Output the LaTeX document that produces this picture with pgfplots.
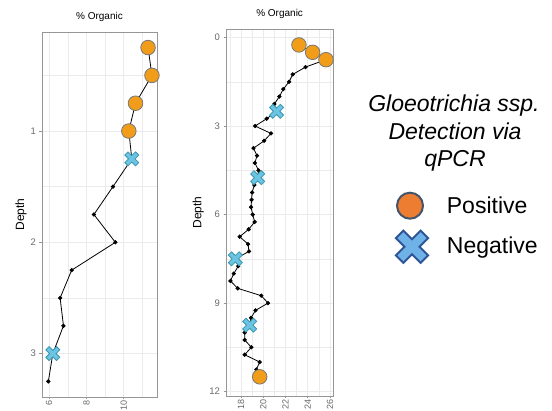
\documentclass[border=0pt]{standalone}
\usepackage{pgfplots}
\usepackage{pgfplotstable}
\pgfplotsset{compat=1.18}
\usepackage{fontspec}
\setmainfont{Liberation Sans}

\definecolor{posfill}{RGB}{242,157,26}
\definecolor{posedge}{RGB}{120,120,120}
\definecolor{negfill}{RGB}{108,196,228}
\definecolor{negedge}{RGB}{58,150,170}
\definecolor{gridc}{RGB}{235,235,235}
\definecolor{framec}{RGB}{150,150,150}
\definecolor{tickc}{RGB}{105,105,105}
\definecolor{legpos}{RGB}{237,125,49}
\definecolor{legposedge}{RGB}{68,84,106}
\definecolor{legneg}{RGB}{111,178,232}
\definecolor{legnegedge}{RGB}{47,85,151}

\pgfdeclareplotmark{fatx}{%
  \pgftransformrotate{45}%
  \pgfpathmoveto{\pgfpoint{0.3\pgfplotmarksize}{\pgfplotmarksize}}%
  \pgfpathlineto{\pgfpoint{0.3\pgfplotmarksize}{0.3\pgfplotmarksize}}%
  \pgfpathlineto{\pgfpoint{\pgfplotmarksize}{0.3\pgfplotmarksize}}%
  \pgfpathlineto{\pgfpoint{\pgfplotmarksize}{-0.3\pgfplotmarksize}}%
  \pgfpathlineto{\pgfpoint{0.3\pgfplotmarksize}{-0.3\pgfplotmarksize}}%
  \pgfpathlineto{\pgfpoint{0.3\pgfplotmarksize}{-\pgfplotmarksize}}%
  \pgfpathlineto{\pgfpoint{-0.3\pgfplotmarksize}{-\pgfplotmarksize}}%
  \pgfpathlineto{\pgfpoint{-0.3\pgfplotmarksize}{-0.3\pgfplotmarksize}}%
  \pgfpathlineto{\pgfpoint{-\pgfplotmarksize}{-0.3\pgfplotmarksize}}%
  \pgfpathlineto{\pgfpoint{-\pgfplotmarksize}{0.3\pgfplotmarksize}}%
  \pgfpathlineto{\pgfpoint{-0.3\pgfplotmarksize}{0.3\pgfplotmarksize}}%
  \pgfpathlineto{\pgfpoint{-0.3\pgfplotmarksize}{\pgfplotmarksize}}%
  \pgfpathclose
  \pgfusepathqfillstroke
}

\pgfplotstableread{
org depth
11.30 0.25
11.51 0.50
10.63 0.75
10.27 1.00
10.43 1.25
9.42 1.50
8.40 1.75
9.55 2.00
7.21 2.25
6.59 2.50
6.77 2.75
6.20 3.00
5.96 3.25
}\leftall
\pgfplotstableread{
org depth
11.30 0.25
11.51 0.50
10.63 0.75
10.27 1.00
}\leftpos
\pgfplotstableread{
org depth
10.43 1.25
6.20 3.00
}\leftneg

\pgfplotstableread{
org depth
23.21 0.25
24.44 0.50
25.64 0.75
23.80 1.00
22.65 1.25
22.32 1.50
21.80 1.75
21.45 2.00
21.00 2.25
21.20 2.50
20.31 2.75
19.27 3.00
20.70 3.25
20.08 3.50
19.12 3.75
19.44 4.00
19.25 4.25
19.57 4.50
19.50 4.75
19.20 5.00
19.00 5.25
18.95 5.50
18.90 5.75
19.05 6.00
19.23 6.25
18.69 6.50
17.88 6.75
18.63 7.00
18.72 7.25
17.49 7.50
17.75 7.75
17.35 8.00
17.05 8.25
17.70 8.50
19.82 8.75
20.43 9.00
19.30 9.25
18.90 9.50
18.78 9.75
18.33 10.00
18.33 10.25
18.93 10.50
18.33 10.75
19.68 11.00
19.38 11.25
19.68 11.50
}\rightall
\pgfplotstableread{
org depth
23.21 0.25
24.44 0.50
25.64 0.75
19.68 11.50
}\rightpos
\pgfplotstableread{
org depth
21.20 2.50
19.50 4.75
17.49 7.50
18.78 9.75
}\rightneg

\pgfplotsset{panel/.style={
  scale only axis,
  axis line style={framec, line width=0.8pt},
  y dir=reverse,
  tick align=outside, tick pos=left,
  major tick length=2.5pt, minor tick length=0pt,
  tick style={framec, line width=0.6pt},
  grid=both,
  major grid style={gridc, line width=0.7pt},
  minor grid style={gridc, line width=0.45pt},
  ticklabel style={font=\fontsize{9.5}{10}\selectfont, text=tickc},
  xticklabel style={rotate=90, anchor=east, inner sep=0.5pt, font=\fontsize{9}{10}\selectfont},
  /pgf/number format/assume math mode=true,
  title={\% Organic},
  title style={font=\fontsize{10.5}{12}\selectfont, text=black!85},
  every axis title/.style={at={(rel axis cs:0.5,1)}, anchor=center, yshift=15pt},
  ylabel={Depth},
}}

\begin{document}
\begin{tikzpicture}
\useasboundingbox (0pt,0pt) rectangle (552pt,411pt);

\begin{axis}[panel,
  at={(42pt,14pt)}, anchor=south west, width=115pt, height=365pt,
  xmin=5.62, xmax=11.78, ymin=0.11, ymax=3.39,
  xtick={6,8,10}, minor xtick={7,9,11},
  ytick={1,2,3}, minor ytick={0.5,1.5,2.5},
  every axis y label/.style={at={(rel axis cs:0,0.5)}, xshift=-21pt, rotate=90, anchor=center, font=\fontsize{12}{14}\selectfont}]
\addplot[black, line width=0.8pt, mark=*, mark size=1.7pt] table[x=org,y=depth]{\leftall};
\addplot[only marks, mark=*, mark size=7.3pt, mark options={fill=posfill, draw=posedge, line width=0.8pt}] table[x=org,y=depth]{\leftpos};
\addplot[only marks, mark=fatx, mark size=7.6pt, mark options={fill=negfill, draw=negedge, line width=0.8pt}] table[x=org,y=depth]{\leftneg};
\end{axis}

\begin{axis}[panel,
  at={(226pt,15pt)}, anchor=south west, width=107.3pt, height=366.7pt,
  xmin=16.65, xmax=26.3, ymin=-0.28, ymax=12.15,
  xtick={18,20,22,24,26}, minor xtick={17,19,21,23,25},
  ytick={0,3,6,9,12}, minor ytick={1.5,4.5,7.5,10.5},
  every axis y label/.style={at={(rel axis cs:0,0.5)}, xshift=-27.7pt, rotate=90, anchor=center, font=\fontsize{12}{14}\selectfont}]
\addplot[black, line width=0.8pt, mark=*, mark size=1.7pt] table[x=org,y=depth]{\rightall};
\addplot[only marks, mark=*, mark size=7.3pt, mark options={fill=posfill, draw=posedge, line width=0.8pt}] table[x=org,y=depth]{\rightpos};
\addplot[only marks, mark=fatx, mark size=7.6pt, mark options={fill=negfill, draw=negedge, line width=0.8pt}] table[x=org,y=depth]{\rightneg};
\end{axis}

% legend
\node[anchor=base, inner sep=0pt, font=\fontsize{23}{27}\selectfont\itshape] at (454pt,299.3pt) {Gloeotrichia ssp.};
\node[anchor=base, inner sep=0pt, font=\fontsize{23}{27}\selectfont\itshape] at (455pt,271.7pt) {Detection via};
\node[anchor=base, inner sep=0pt, font=\fontsize{23}{27}\selectfont\itshape] at (455pt,244.3pt) {qPCR};
\draw[fill=legpos, draw=legposedge, line width=2pt] (410pt,205.3pt) circle (13pt);
\begin{scope}[shift={(412pt,164.3pt)}, rotate=45]
\draw[fill=legneg, draw=legnegedge, line width=2pt, line join=miter]
  (5.3pt,17.5pt) -- (5.3pt,5.3pt) -- (17.5pt,5.3pt) -- (17.5pt,-5.3pt) -- (5.3pt,-5.3pt) -- (5.3pt,-17.5pt)
  -- (-5.3pt,-17.5pt) -- (-5.3pt,-5.3pt) -- (-17.5pt,-5.3pt) -- (-17.5pt,5.3pt) -- (-5.3pt,5.3pt) -- (-5.3pt,17.5pt) -- cycle;
\end{scope}
\node[anchor=base west, inner sep=0pt, font=\fontsize{23}{27}\selectfont] at (446.7pt,197.7pt) {Positive};
\node[anchor=base west, inner sep=0pt, font=\fontsize{23}{27}\selectfont] at (446.7pt,157pt) {Negative};
\end{tikzpicture}
\end{document}
